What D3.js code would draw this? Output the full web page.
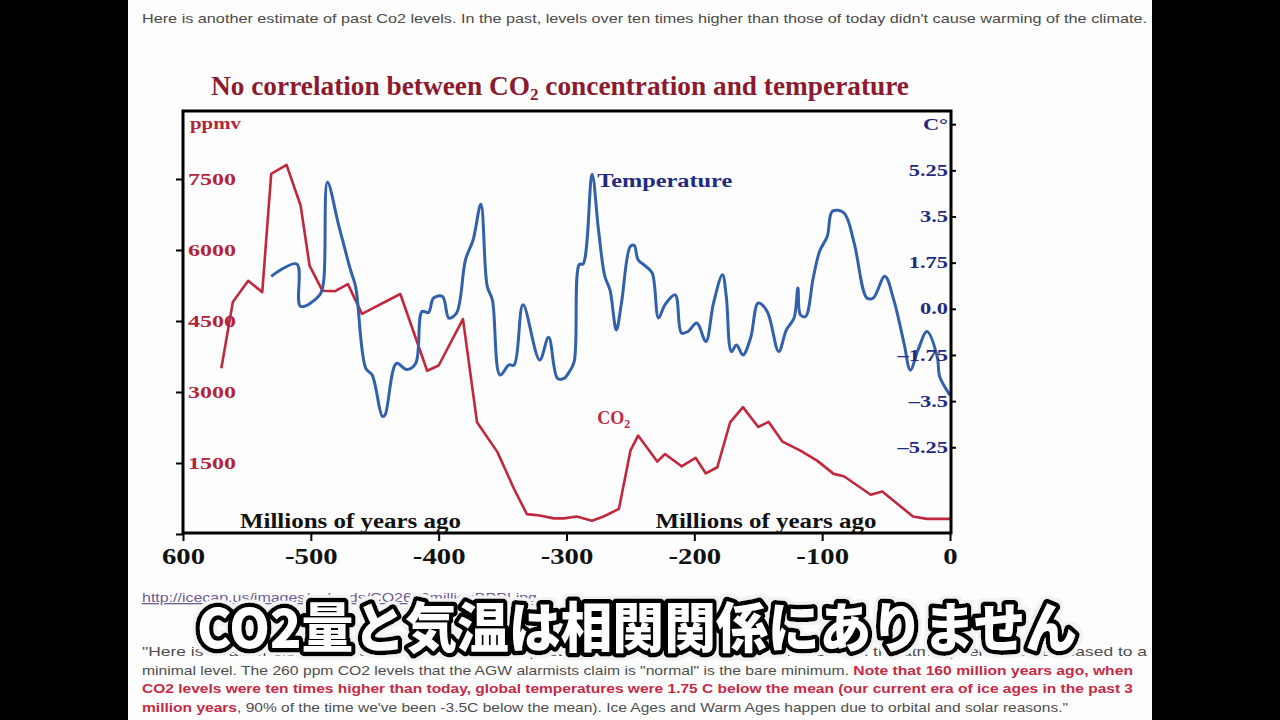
<!DOCTYPE html>
<html><head><meta charset="utf-8">
<script src="https://cdn.jsdelivr.net/npm/d3@7"></script>
<style>
html,body{margin:0;padding:0;background:#000;}
svg{display:block;}
</style></head><body>
<svg id="c" width="1280" height="720"></svg>
<script>
// ---------- data ----------
const xTicks = [-600,-500,-400,-300,-200,-100,0];
const xTickLabels = ["600","-500","-400","-300","-200","-100","0"];
const co2Ticks = [0,1500,3000,4500,6000,7500];
const co2TickLabels = ["","1500","3000","4500","6000","7500"];
const tempTicks = [-5.25,-3.5,-1.75,0,1.75,3.5,5.25,7];
const tempTickLabels = ["\u20135.25","\u20133.5","\u20131.75","0.0","1.75","3.5","5.25","C\u00B0"];

const co2Age = [-570,-561,-549,-538,-531,-519,-508,-501,-491,-481,-471,-460,-430,-409,-400,-381,-370,-354,-341,-331,-321,-310,-302,-292,-280,-271,-259,-250,-244,-229,-223,-210,-199,-191,-182,-172,-162,-150,-142,-131,-117,-104,-91,-83,-62,-53,-29,-18,0];
const co2Val = [3500,4900,5350,5110,7610,7800,6940,5670,5140,5130,5280,4650,5070,3450,3560,4540,2360,1730,950,420,390,330,330,370,280,370,530,1760,2080,1530,1690,1430,1610,1280,1410,2360,2680,2260,2370,1950,1760,1550,1270,1220,830,900,370,320,320];

const tempAge = [-531,-511,-508,-493,-490,-487,-478,-469,-465,-457,-452,-444,-442,-433,-425,-418,-413,-408,-404,-397,-392,-386,-379,-373,-367,-362,-358,-352,-345,-341,-334,-321,-314,-307,-302,-298,-294,-290,-287,-280,-275,-270,-266,-261,-257,-250,-247,-244,-238,-233,-228,-223,-215,-210,-205,-198,-191,-185,-178,-175,-171,-167,-162,-156,-150,-143,-134,-128,-122,-119,-117,-113,-107,-102,-96,-92,-83,-75,-65,-60,-51,-44,-36,-31,-25,-18,-10,-8,0];
const tempVal = [1.23,1.70,0.09,0.53,1.04,4.80,3.13,1.48,0.85,-2.26,-2.51,-4.08,-4.03,-2.07,-2.30,-2.07,-0.10,-0.14,0.41,0.47,-0.35,-0.16,1.86,2.62,3.96,0.85,0.34,-2.51,-2.13,-2.13,0.15,-1.94,-1.08,-2.64,-2.64,-2.40,-2.00,1.68,1.70,5.10,3.00,1.23,0.72,-0.80,0.22,2.37,2.40,1.86,1.61,1.36,-0.35,0.15,0.53,-0.92,-0.86,-0.54,-1.24,0.22,1.29,0.47,-1.62,-1.37,-1.75,-1.11,0.22,-0.10,-1.62,-0.80,-0.35,0.79,-0.23,-0.29,1.17,2.18,2.75,3.70,3.64,2.50,0.41,0.41,1.23,0.34,-1.30,-2.32,-1.56,-0.86,-1.81,-2.58,-3.27];

// ---------- drawing ----------
const svg = d3.select("#c");
const SERIF = "'Liberation Serif','Times New Roman',serif";
const SANS = "'Liberation Sans',Arial,sans-serif";
const RED = "#c1283d", BLUE = "#3161aa", NAVY = "#1f2c7e", TRED = "#b3263a";

function stretch(sel, f){
  sel.each(function(){
    const l = this.getComputedTextLength();
    this.setAttribute("textLength", l*f);
    this.setAttribute("lengthAdjust","spacingAndGlyphs");
  });
}
function fitTo(sel, w){ sel.attr("textLength", w).attr("lengthAdjust","spacingAndGlyphs"); }

// halo filter for the caption
const defs = svg.append("defs");
const f = defs.append("filter").attr("id","halo").attr("x","-5%").attr("y","-40%").attr("width","110%").attr("height","180%");
f.append("feMorphology").attr("in","SourceAlpha").attr("operator","dilate").attr("radius",3).attr("result","d");
f.append("feFlood").attr("flood-color","#f2f2f2").attr("result","fl");
f.append("feComposite").attr("in","fl").attr("in2","d").attr("operator","in").attr("result","h");
const fm = f.append("feMerge");
fm.append("feMergeNode").attr("in","h");
fm.append("feMergeNode").attr("in","SourceGraphic");

svg.append("rect").attr("x",128).attr("y",0).attr("width",1024).attr("height",720).attr("fill","#fdfdfd");

// header
svg.append("text").attr("x",142).attr("y",23).attr("font-family",SANS).attr("font-size",13)
  .attr("fill","#4a4a4a")
  .text("Here is another estimate of past Co2 levels. In the past, levels over ten times higher than those of today didn't cause warming of the climate.")
  .call(fitTo, 1005);

// title
const title = svg.append("text").attr("x",211).attr("y",95).attr("font-family",SERIF)
  .attr("font-weight","bold").attr("font-size",27).attr("fill","#8c1b2f");
title.append("tspan").text("No correlation between CO");
title.append("tspan").attr("font-size",17).attr("dy",5).text("2");
title.append("tspan").attr("dy",-5).text(" concentration and temperature");
title.call(fitTo, 698);

// scales
const x = d3.scaleLinear().domain([-600,0]).range([183,950]);
const yL = d3.scaleLinear().domain([0,9000]).range([534,108]);
const yR = d3.scaleLinear().domain([-8.5,7.5]).range([533,111]);

// lines
const co2 = co2Age.map((a,i)=>[a,co2Val[i]]);
const temp = tempAge.map((a,i)=>[a,tempVal[i]]);
svg.append("path").datum(co2)
  .attr("d", d3.line().x(d=>x(d[0])).y(d=>yL(d[1])))
  .attr("fill","none").attr("stroke",RED).attr("stroke-width",2.6).attr("stroke-linejoin","round");
svg.append("path").datum(temp)
  .attr("d", d3.line().curve(d3.curveCatmullRom.alpha(0.5)).x(d=>x(d[0])).y(d=>yR(d[1])))
  .attr("fill","none").attr("stroke",BLUE).attr("stroke-width",3).attr("stroke-linejoin","round");

// frame
svg.append("rect").attr("x",183).attr("y",111).attr("width",768).attr("height",422)
  .attr("fill","none").attr("stroke","#000").attr("stroke-width",3);

// left axis
const gL = svg.append("g").attr("transform","translate(183,0)")
  .call(d3.axisLeft(yL).tickValues(co2Ticks).tickSize(7).tickFormat((d,i)=>co2TickLabels[i]));
gL.select(".domain").remove();
gL.selectAll("line").attr("stroke","#000").attr("stroke-width",2);
gL.selectAll("text").attr("x",5).attr("text-anchor","start").attr("fill",TRED)
  .attr("font-family",SERIF).attr("font-weight","bold").attr("font-size",16).call(stretch,1.5);

// right axis
const gR = svg.append("g").attr("transform","translate(950,0)")
  .call(d3.axisRight(yR).tickValues(tempTicks).tickSize(6).tickFormat((d,i)=>tempTickLabels[i]));
gR.select(".domain").remove();
gR.selectAll("line").attr("stroke","#000").attr("stroke-width",2);
gR.selectAll("text").attr("x",-2).attr("text-anchor","end").attr("fill",NAVY)
  .attr("font-family",SERIF).attr("font-weight","bold").attr("font-size",16).call(stretch,1.4);

// bottom axis
const gB = svg.append("g").attr("transform","translate(0,533)")
  .call(d3.axisBottom(x).tickValues(xTicks).tickSize(8).tickFormat((d,i)=>xTickLabels[i]));
gB.select(".domain").remove();
gB.selectAll("line").attr("stroke","#000").attr("stroke-width",2);
gB.selectAll("text").attr("y",15).attr("fill","#111")
  .attr("font-family",SERIF).attr("font-weight","bold").attr("font-size",23).call(stretch,1.25);

// in-plot labels
svg.append("text").attr("x",190).attr("y",129).attr("font-family",SERIF).attr("font-weight","bold")
  .attr("font-size",16).attr("fill",TRED).text("ppmv").call(stretch,1.3);
[-469,-144].forEach(a=>{
  svg.append("text").attr("x",x(a)).attr("y",528).attr("text-anchor","middle")
    .attr("font-family",SERIF).attr("font-weight","bold").attr("font-size",20).attr("fill","#111")
    .text("Millions of years ago").call(fitTo,221);
});
svg.append("text").attr("x",x(-276)).attr("y",yR(4.6)).attr("font-family",SERIF).attr("font-weight","bold")
  .attr("font-size",18).attr("fill",NAVY).text("Temperature").call(fitTo,135);
const co2lab = svg.append("text").attr("x",x(-276)).attr("y",424).attr("font-family",SERIF)
  .attr("font-weight","bold").attr("font-size",18).attr("fill",RED);
co2lab.append("tspan").text("CO");
co2lab.append("tspan").attr("font-size",12).attr("dy",4).text("2");

// link
svg.append("text").attr("x",142).attr("y",602).attr("font-family",SANS).attr("font-size",13)
  .attr("fill","#6d5c93").attr("text-decoration","underline")
  .text("http://icecap.us/images/uploads/CO2600millionBPPI.jpg").call(fitTo,395);

// paragraph
const para = [
  [["\"Here is a rather clear chart showing that over the past 600 million years the amount of CO2 in the atmosphere has decreased to a",0]],
  [["minimal level. The 260 ppm CO2 levels that the AGW alarmists claim is \"normal\" is the bare minimum. ",0],["Note that 160 million years ago, when",1]],
  [["CO2 levels were ten times higher than today, global temperatures were 1.75 C below the mean (our current era of ice ages in the past 3",1]],
  [["million years",1],[", 90% of the time we've been -3.5C below the mean). Ice Ages and Warm Ages happen due to orbital and solar reasons.\"",0]]
];
const paraW = [1005, 991, 991, 926];
para.forEach((line,i)=>{
  const t = svg.append("text").attr("x",142).attr("y",656+i*18.5).attr("font-family",SANS)
    .attr("font-size",13.5).attr("fill","#4d4d4d");
  line.forEach(([s,b])=>{
    const sp = t.append("tspan").text(s);
    if(b) sp.attr("fill","#c42a45").attr("font-weight","bold");
  });
  t.call(fitTo, paraW[i]);
});

// Japanese caption, overlaid on the page text as in the video frame
svg.append("text").attr("x",197).attr("y",648).attr("font-family","'Noto Sans CJK JP',sans-serif")
  .attr("font-weight",900).attr("font-size",54).attr("fill","#fff")
  .attr("stroke","#000").attr("stroke-width",9).attr("stroke-linejoin","round")
  .attr("paint-order","stroke").attr("filter","url(#halo)")
  .text("CO2量と気温は相関関係にありません").call(fitTo,880);
</script>
</body></html>
